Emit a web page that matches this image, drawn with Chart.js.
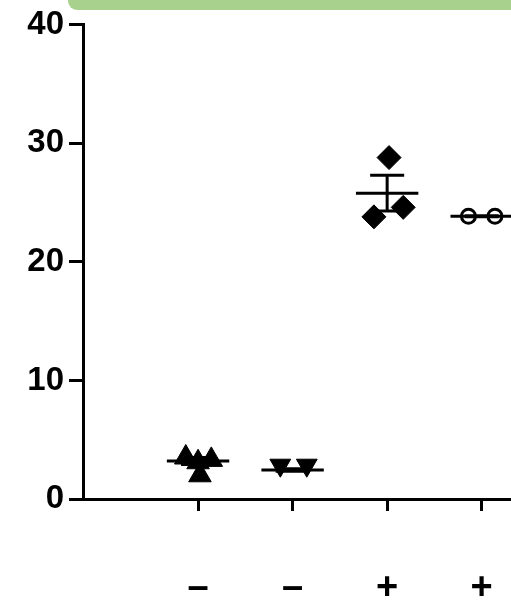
<!DOCTYPE html>
<html>
<head>
<meta charset="utf-8">
<script src="https://cdn.jsdelivr.net/npm/chart.js@4.4.0/dist/chart.umd.min.js"></script>
<style>
  html, body { margin: 0; padding: 0; background: #fff; overflow: hidden; }
</style>
</head>
<body>
<canvas id="chart" width="511" height="600"></canvas>
<script>
// categories and tick labels
const groupLabels = ['–', '–', '+', '+'];
const groupPositions = [1, 2, 3, 4];
const yTicks = [0, 10, 20, 30, 40];

// individual points (x = group position + jitter)
const triUpX = [0.87, 1.0, 1.14, 1.02];
const triUpY = [3.5, 3.1, 3.3, 2.0];
const triDownX = [1.87, 2.15];
const triDownY = [2.85, 2.85];
const diamondX = [3.02, 2.86, 3.17];
const diamondY = [28.8, 23.8, 24.6];
const circleX = [3.86, 4.14];
const circleY = [23.85, 23.85];

// group summary: mean and SEM
const groupMeans = [3.2, 2.45, 25.8, 23.85];
const groupSems = [0.3, 0.1, 1.5, 0.05];

const FONT = "'Liberation Sans', Arial, sans-serif";

const toPoints = (xs, ys) => xs.map((x, i) => ({ x: x, y: ys[i] }));

// green strip at the top of the picture
const topBand = {
    id: 'topBand',
    beforeDraw(chart) {
        const ctx = chart.ctx;
        ctx.save();
        ctx.fillStyle = '#a9d18e';
        ctx.beginPath();
        ctx.roundRect(68, -12, 470, 22, 9);
        ctx.fill();
        ctx.restore();
    }
};

// mean line + SEM bars per group
const meanSem = {
    id: 'meanSem',
    afterDatasetsDraw(chart) {
        const ctx = chart.ctx;
        const xs = chart.scales.x;
        const ys = chart.scales.y;
        ctx.save();
        ctx.strokeStyle = '#000';
        ctx.lineWidth = 3;
        groupPositions.forEach((g, i) => {
            const m = groupMeans[i], s = groupSems[i];
            const yM = ys.getPixelForValue(m);
            const yHi = ys.getPixelForValue(m + s);
            const yLo = ys.getPixelForValue(m - s);
            const xc = xs.getPixelForValue(g);
            ctx.beginPath();
            ctx.moveTo(xs.getPixelForValue(g - 0.33), yM);
            ctx.lineTo(xs.getPixelForValue(g + 0.33), yM);
            ctx.moveTo(xc, yHi);
            ctx.lineTo(xc, yLo);
            ctx.moveTo(xs.getPixelForValue(g - 0.18), yHi);
            ctx.lineTo(xs.getPixelForValue(g + 0.18), yHi);
            ctx.moveTo(xs.getPixelForValue(g - 0.18), yLo);
            ctx.lineTo(xs.getPixelForValue(g + 0.18), yLo);
            ctx.stroke();
        });
        ctx.restore();
    }
};

new Chart(document.getElementById('chart'), {
    type: 'scatter',
    data: {
        datasets: [
            {
                data: toPoints(triUpX, triUpY),
                pointStyle: 'triangle',
                pointRadius: 13,
                backgroundColor: '#000',
                borderColor: '#000',
                borderWidth: 1
            },
            {
                data: toPoints(triDownX, triDownY),
                pointStyle: 'triangle',
                rotation: 180,
                pointRadius: 12,
                backgroundColor: '#000',
                borderColor: '#000',
                borderWidth: 1
            },
            {
                data: toPoints(diamondX, diamondY),
                pointStyle: 'rectRot',
                pointRadius: 12,
                backgroundColor: '#000',
                borderColor: '#000',
                borderWidth: 1
            },
            {
                data: toPoints(circleX, circleY),
                pointStyle: 'circle',
                pointRadius: 7,
                backgroundColor: 'rgba(255,255,255,0)',
                borderColor: '#000',
                borderWidth: 3
            }
        ]
    },
    options: {
        responsive: false,
        animation: false,
        clip: false,
        layout: { autoPadding: false, padding: { top: 23, right: 0, left: 0, bottom: 0 } },
        plugins: { legend: { display: false }, tooltip: { enabled: false } },
        scales: {
            x: {
                type: 'linear',
                min: -0.217,
                max: 4.31,
                afterBuildTicks: (scale) => { scale.ticks = groupPositions.map(v => ({ value: v })); },
                afterFit: (scale) => {
                    scale.height = 101;
                    scale.paddingLeft = 0;
                    scale.paddingRight = 0;
                },
                ticks: {
                    callback: (v) => groupLabels[v - 1],
                    color: '#000',
                    font: { family: FONT, size: 38, weight: 'bold' },
                    padding: 55,
                    maxRotation: 0
                },
                grid: {
                    drawOnChartArea: false,
                    drawTicks: true,
                    tickLength: 12,
                    tickWidth: 3,
                    tickColor: '#000'
                },
                border: { color: '#000', width: 3 }
            },
            y: {
                min: 0,
                max: 40,
                afterBuildTicks: (scale) => { scale.ticks = yTicks.map(v => ({ value: v })); },
                afterFit: (scale) => { scale.width = 83; },
                ticks: {
                    color: '#000',
                    font: { family: FONT, size: 33, weight: 'bold' },
                    padding: 5
                },
                grid: {
                    drawOnChartArea: false,
                    drawTicks: true,
                    tickLength: 14,
                    tickWidth: 3,
                    tickColor: '#000'
                },
                border: { color: '#000', width: 3 }
            }
        }
    },
    plugins: [topBand, meanSem]
});
</script>
</body>
</html>
